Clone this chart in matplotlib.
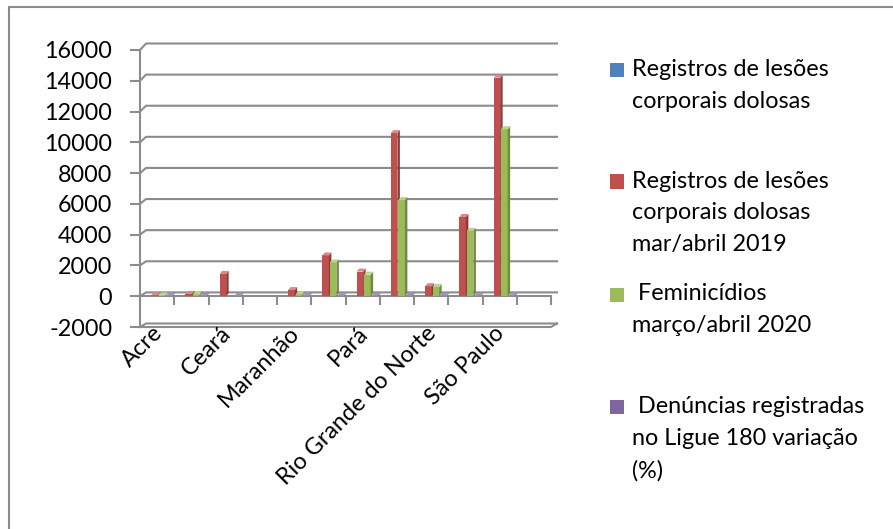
import numpy as np
import matplotlib.pyplot as plt
from matplotlib.patches import Polygon, Rectangle

plt.rcParams['font.family'] = ['Lato', 'DejaVu Sans']
plt.rcParams['axes.unicode_minus'] = False

# estados (labels shown on every other slot)
categories = ['Acre', '', 'Ceará', '', 'Maranhão', '', 'Pará', '',
              'Rio Grande do Norte', '', 'São Paulo', '']

series_names = ['Registros de lesões\ncorporais dolosas',
                'Registros de lesões\ncorporais dolosas\nmar/abril 2019',
                ' Feminicídios\nmarço/abril 2020',
                ' Denúncias registradas\nno Ligue 180 variação\n(%)']

nan = np.nan
lesoes = [nan] * 12
lesoes_2019 = [60, 150, 1450, nan, 400, 2650, 1600, 10600, 650, 5150, 14200, nan]
feminicidios_2020 = [50, 120, nan, nan, 120, 2200, 1400, 6250, 600, 4250, 10850, nan]
ligue180 = [40, 40, 40, nan, 40, 40, 40, 40, 40, 40, 40, nan]
series_values = [lesoes, lesoes_2019, feminicidios_2020, ligue180]

front_colors = ['#4F81BD', '#C0504D', '#9BBB59', '#8064A2']
side_colors = ['#3A6190', '#8E3B39', '#718A41', '#5E4A78']
top_colors = ['#7FA3D0', '#D98A88', '#BCD48F', '#A690C0']

FS = 16.8
W, H = 893, 529
fig = plt.figure(figsize=(W / 100, H / 100), dpi=100)

# chart box: front left axis at x=140, -2000 at y=327, 16000 at y=50
x0, x1, ytop, ybot = 140, 551, 50, 327
ax = fig.add_axes([x0 / W, (H - ybot) / H, (x1 - x0) / W, (ybot - ytop) / H])
ymin, ymax = -2000, 16000
ax.set_xlim(-0.5, 11.5)
ax.set_ylim(ymin, ymax)

px_y = (ymax - ymin) / (ybot - ytop)      # data units per pixel (y)
px_x = 12 / (x1 - x0)                     # data units per pixel (x)
grid_c = '#8C8C8C'

# back wall gridlines with a short diagonal from the front axis
for v in range(ymin, ymax + 1, 2000):
    off = (3.5 + 3.0 * (v - ymin) / (ymax - ymin)) * px_y
    dx = 6 * px_x
    ax.plot([-0.5, -0.5 + dx, 11.5 + dx], [v, v + off, v + off],
            color=grid_c, lw=1.5, clip_on=False, zorder=1)

# front bottom edge and category axis at zero
ax.plot([-0.5, 11.5, 11.5 + 6 * px_x], [ymin, ymin, ymin + 3.5 * px_y],
        color=grid_c, lw=1.5, clip_on=False, zorder=1)
ax.plot([-0.5, 11.5], [0, 0], color=grid_c, lw=1.5, clip_on=False, zorder=1)
bounds = np.arange(-0.5, 12, 1.0)
ax.vlines(bounds, -9 * px_y, 0, color=grid_c, lw=1.5, clip_on=False, zorder=1)

# bars with a darker side face and light top face
bar_w = 0.19
lefts = [-0.394, -0.175, 0.044, 0.263]
dx = 2.5 * px_x
dy = 3 * px_y
for s, vals in enumerate(series_values):
    for i, v in enumerate(vals):
        if np.isnan(v):
            continue
        xl = i + lefts[s]
        xr = xl + bar_w
        ax.bar(xl, v, width=bar_w, align='edge', color=front_colors[s],
               edgecolor='none', zorder=3 + s)
        ax.add_patch(Polygon([(xr, 0), (xr + dx, dy), (xr + dx, v + dy), (xr, v)],
                             closed=True, facecolor=side_colors[s],
                             edgecolor='none', zorder=3 + s))
        ax.add_patch(Polygon([(xl, v), (xl + dx, v + dy), (xr + dx, v + dy), (xr, v)],
                             closed=True, facecolor=top_colors[s],
                             edgecolor='none', zorder=3 + s))

for sp in ['top', 'right', 'bottom']:
    ax.spines[sp].set_visible(False)
ax.spines['left'].set_color(grid_c)
ax.spines['left'].set_linewidth(1.5)

ax.set_yticks(range(ymin, ymax + 1, 2000))
ax.tick_params(axis='y', length=7, width=1.5, color=grid_c, pad=13,
               labelsize=FS)
ax.set_xticks(np.arange(12) + 0.05)
ax.set_xticklabels(categories, rotation=45, ha='right', va='center',
                   rotation_mode='anchor', fontsize=FS)
ax.tick_params(axis='x', length=0, pad=2)

# legend
leg_y = [70, 181.5, 294.5, 407]
for s, name in enumerate(series_names):
    yc = leg_y[s]
    fig.patches.append(Rectangle((610 / W, 1 - (yc + 7) / H), 14 / W, 14 / H,
                                 transform=fig.transFigure,
                                 facecolor=front_colors[s], edgecolor='none'))
    # first line centred on the marker
    fig.text(632 / W, 1 - (yc - 11) / H, name, ha='left', va='top',
             fontsize=FS, linespacing=1.63, transform=fig.transFigure)

# outer chart border (left and top edges visible)
fig.patches.append(Rectangle((9 / W, -0.1), 1.2, 1.1 - 7 / H,
                             transform=fig.transFigure, fill=False,
                             edgecolor='#8C8C8C', lw=1.5))

fig.savefig('out.png', dpi=100)
